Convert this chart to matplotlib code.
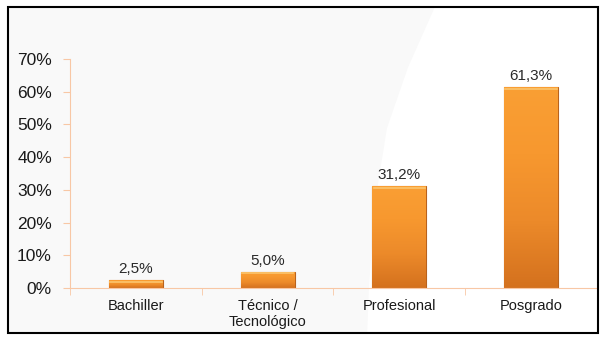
import matplotlib.pyplot as plt
import numpy as np
from matplotlib.patches import Rectangle, Polygon
from matplotlib.colors import LinearSegmentedColormap

categorias = ['Bachiller', 'Técnico /\nTecnológico', 'Profesional', 'Posgrado']
valores = [2.5, 5.0, 31.2, 61.3]
etiquetas = ['2,5%', '5,0%', '31,2%', '61,3%']
yticks = [0, 10, 20, 30, 40, 50, 60, 70]

plt.rcParams['font.family'] = ['Liberation Sans', 'DejaVu Sans']

fig = plt.figure(figsize=(6, 3.37), dpi=100)
fig.patch.set_facecolor('white')

# fondo gris claro con zona blanca curva a la derecha
fig.patches.append(Rectangle((0.013, 0.012), 0.984, 0.968, transform=fig.transFigure,
                             facecolor='#f9f9f9', edgecolor='none', zorder=-2))
curva = [(0.725, 0.98), (0.68, 0.80), (0.645, 0.62), (0.625, 0.40), (0.615, 0.15),
         (0.612, 0.012), (0.997, 0.012), (0.997, 0.98)]
fig.patches.append(Polygon(curva, closed=True, transform=fig.transFigure,
                           facecolor='white', edgecolor='none', zorder=-1))
fig.patches.append(Rectangle((0.013, 0.012), 0.984, 0.968, transform=fig.transFigure,
                             facecolor='none', edgecolor='black', linewidth=1.5, zorder=5))

ax = fig.add_axes([0.1167, 0.145, 0.878, 0.68])
ax.set_facecolor('none')

x = np.arange(len(categorias))
bars = ax.bar(x, valores, width=0.41, color='#F7952E', edgecolor='#B9621C',
              linewidth=0.8, zorder=2)

# degradado en cada barra
grad = np.linspace(0, 1, 256).reshape(-1, 1)
cmap = LinearSegmentedColormap.from_list('nar', ['#D4711E', '#EC8A2A', '#F7982F', '#FA9F34'])
for b in bars:
    im = ax.imshow(grad, extent=[b.get_x(), b.get_x() + b.get_width(), 0, b.get_height()],
                   origin='lower', cmap=cmap, aspect='auto', zorder=2)
    im.set_clip_path(b)
    # brillo arriba
    ax.plot([b.get_x() + 0.01, b.get_x() + b.get_width() - 0.01],
            [b.get_height() - 0.5, b.get_height() - 0.5], color='#FBC56E', lw=1.2, zorder=3)

for xi, v, t in zip(x, valores, etiquetas):
    ax.text(xi, v + 1.3, t, ha='center', va='bottom', fontsize=11, color='#2a2a2a')

ax.set_xlim(-0.5, 3.5)
ax.set_ylim(0, 70)
ax.set_yticks(yticks)
ax.set_yticklabels([f'{v}%' for v in yticks], fontsize=12.5, color='#1a1a1a')
ax.set_xticks(x)
ax.set_xticklabels(categorias, fontsize=10.5, color='#1a1a1a')
ax.tick_params(axis='x', length=0, pad=8)
ax.tick_params(axis='y', length=5, color='#F8C7A5', pad=8)

# marcas entre categorias
ax.set_xticks(np.arange(-0.5, 4.0, 1.0), minor=True)
ax.tick_params(axis='x', which='minor', length=5, color='#F8C7A5')

for s in ['top', 'right']:
    ax.spines[s].set_visible(False)
ax.spines['left'].set_color('#F8C7A5')
ax.spines['bottom'].set_color('#F8C7A5')

fig.savefig('out.png', dpi=100)
